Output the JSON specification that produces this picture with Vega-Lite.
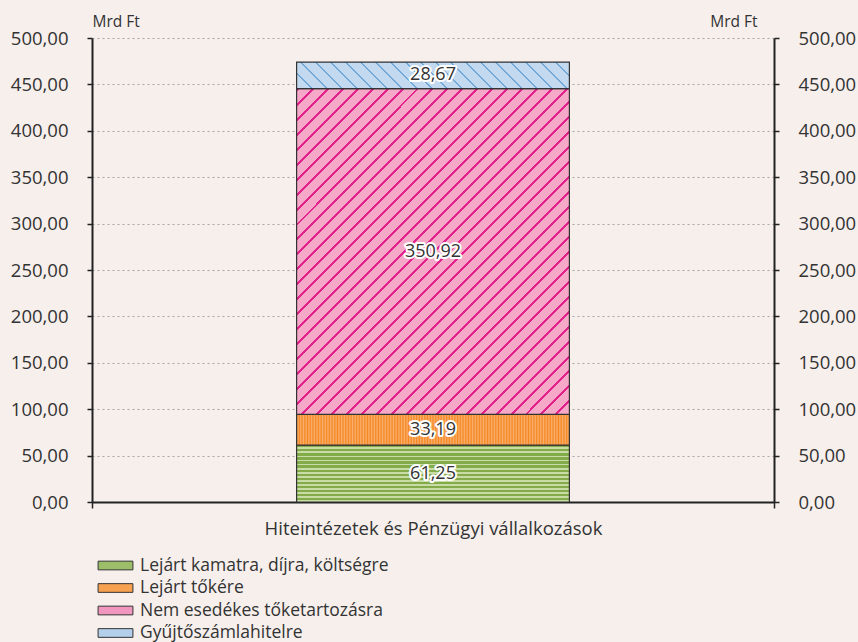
{
  "$schema": "https://vega.github.io/schema/vega-lite/v6.json",
  "width": 682,
  "height": 464,
  "autosize": {"type": "none"},
  "padding": {"left": 92, "top": 38, "right": 84, "bottom": 140},
  "background": "#f6efec",
  "config": {
    "view": {"stroke": null},
    "font": "Open Sans",
    "locale": {"number": {"decimal": ",", "thousands": " ", "grouping": [3], "currency": ["", " Ft"]}}
  },
  "data": {
    "values": [
      {"grp": "Hiteintézetek és Pénzügyi vállalkozások", "cat": "Lejárt kamatra, díjra, költségre", "ord": 1, "v": 61.25},
      {"grp": "Hiteintézetek és Pénzügyi vállalkozások", "cat": "Lejárt tőkére", "ord": 2, "v": 33.19},
      {"grp": "Hiteintézetek és Pénzügyi vállalkozások", "cat": "Nem esedékes tőketartozásra", "ord": 3, "v": 350.92},
      {"grp": "Hiteintézetek és Pénzügyi vállalkozások", "cat": "Gyűjtőszámlahitelre", "ord": 4, "v": 28.67}
    ]
  },
  "resolve": {"scale": {"y": "shared"}, "axis": {"y": "independent"}},
  "encoding": {
    "x": {
      "field": "grp", "type": "nominal",
      "scale": {"paddingInner": 0, "paddingOuter": 0},
      "axis": {"title": null, "labelAngle": 0, "labelFontSize": 18.5, "labelLimit": 0, "labelColor": "#333", "domainColor": "#222", "domainWidth": 2, "tickBand": "extent", "tickColor": "#222", "tickWidth": 1.5, "tickSize": 6, "labelPadding": 11}
    }
  },
  "layer": [
    {
      "mark": {"type": "bar", "width": {"band": 0.4}},
      "encoding": {
        "y": {
          "field": "v", "type": "quantitative", "stack": "zero",
          "scale": {"domain": [0, 500], "nice": false},
          "axis": {"orient": "left", "values": [0, 50, 100, 150, 200, 250, 300, 350, 400, 450, 500], "format": ".2f", "grid": true, "gridColor": "#a6a6a6", "gridDash": [2, 3], "gridWidth": 1, "domainColor": "#222", "domainWidth": 2, "tickColor": "#222", "tickWidth": 1.5, "tickSize": 5, "labelFontSize": 18.5, "labelColor": "#333", "labelPadding": 19, "title": "Mrd Ft", "titleAngle": 0, "titleX": 0, "titleY": -17, "titleAlign": "left", "titleBaseline": "middle", "titleFontSize": 15.5, "titleFontWeight": "normal", "titleColor": "#333"}
        },
        "order": {"field": "ord"},
        "color": {
          "field": "cat", "type": "nominal",
          "sort": ["Lejárt kamatra, díjra, költségre", "Lejárt tőkére", "Nem esedékes tőketartozásra", "Gyűjtőszámlahitelre"],
          "scale": {"domain": ["Lejárt kamatra, díjra, költségre", "Lejárt tőkére", "Nem esedékes tőketartozásra", "Gyűjtőszámlahitelre"], "range": ["#9cbe68", "#f7a050", "#f196be", "#b3cfea"]},
          "legend": {
            "orient": "none", "legendX": 14, "legendY": 518, "title": null, "padding": 0,
            "symbolType": "M-2,-0.5L2,-0.5L2,0.5L-2,0.5Z", "symbolSize": 303,
            "labelFontSize": 17.5, "labelLimit": 0, "labelColor": "#333", "labelOffset": 15, "rowPadding": 4.5,
            "encode": {"symbols": {"update": {"stroke": {"value": "#333"}, "strokeWidth": {"value": 1}, "opacity": {"value": 1}}}}
          }
        }
      }
    },
    {
      "mark": {"type": "bar", "width": {"band": 0.4}, "stroke": "#333", "strokeWidth": 1.2},
      "encoding": {
        "y": {
          "field": "v", "type": "quantitative", "stack": "zero",
          "scale": {"domain": [0, 500], "nice": false},
          "axis": {"orient": "right", "values": [0, 50, 100, 150, 200, 250, 300, 350, 400, 450, 500], "format": ".2f", "grid": false, "domainColor": "#222", "domainWidth": 2, "tickColor": "#222", "tickWidth": 1.5, "tickSize": 5, "labelFontSize": 18.5, "labelColor": "#333", "labelPadding": 19, "title": "Mrd Ft", "titleAngle": 0, "titleX": -17, "titleY": -17, "titleAlign": "right", "titleBaseline": "middle", "titleFontSize": 15.5, "titleFontWeight": "normal", "titleColor": "#333"}
        },
        "order": {"field": "ord"},
        "detail": {"field": "cat"},
        "fill": {
          "condition": [
            {"test": "datum.ord === 1", "value": {"gradient": "linear", "x1": 0, "y1": 0, "x2": 0, "y2": 1, "stops": [
              {"offset": 0, "color": "#84ab4a"}, {"offset": 0.0393, "color": "#84ab4a"}, {"offset": 0.0393, "color": "#c9dca6"}, {"offset": 0.0714, "color": "#c9dca6"},
              {"offset": 0.0714, "color": "#84ab4a"}, {"offset": 0.1107, "color": "#84ab4a"}, {"offset": 0.1107, "color": "#c9dca6"}, {"offset": 0.1429, "color": "#c9dca6"},
              {"offset": 0.1429, "color": "#84ab4a"}, {"offset": 0.1821, "color": "#84ab4a"}, {"offset": 0.1821, "color": "#c9dca6"}, {"offset": 0.2143, "color": "#c9dca6"},
              {"offset": 0.2143, "color": "#84ab4a"}, {"offset": 0.2536, "color": "#84ab4a"}, {"offset": 0.2536, "color": "#c9dca6"}, {"offset": 0.2857, "color": "#c9dca6"},
              {"offset": 0.2857, "color": "#84ab4a"}, {"offset": 0.325, "color": "#84ab4a"}, {"offset": 0.325, "color": "#c9dca6"}, {"offset": 0.3571, "color": "#c9dca6"},
              {"offset": 0.3571, "color": "#84ab4a"}, {"offset": 0.3964, "color": "#84ab4a"}, {"offset": 0.3964, "color": "#c9dca6"}, {"offset": 0.4286, "color": "#c9dca6"},
              {"offset": 0.4286, "color": "#84ab4a"}, {"offset": 0.4679, "color": "#84ab4a"}, {"offset": 0.4679, "color": "#c9dca6"}, {"offset": 0.5, "color": "#c9dca6"},
              {"offset": 0.5, "color": "#84ab4a"}, {"offset": 0.5393, "color": "#84ab4a"}, {"offset": 0.5393, "color": "#c9dca6"}, {"offset": 0.5714, "color": "#c9dca6"},
              {"offset": 0.5714, "color": "#84ab4a"}, {"offset": 0.6107, "color": "#84ab4a"}, {"offset": 0.6107, "color": "#c9dca6"}, {"offset": 0.6429, "color": "#c9dca6"},
              {"offset": 0.6429, "color": "#84ab4a"}, {"offset": 0.6821, "color": "#84ab4a"}, {"offset": 0.6821, "color": "#c9dca6"}, {"offset": 0.7143, "color": "#c9dca6"},
              {"offset": 0.7143, "color": "#84ab4a"}, {"offset": 0.7536, "color": "#84ab4a"}, {"offset": 0.7536, "color": "#c9dca6"}, {"offset": 0.7857, "color": "#c9dca6"},
              {"offset": 0.7857, "color": "#84ab4a"}, {"offset": 0.825, "color": "#84ab4a"}, {"offset": 0.825, "color": "#c9dca6"}, {"offset": 0.8571, "color": "#c9dca6"},
              {"offset": 0.8571, "color": "#84ab4a"}, {"offset": 0.8964, "color": "#84ab4a"}, {"offset": 0.8964, "color": "#c9dca6"}, {"offset": 0.9286, "color": "#c9dca6"},
              {"offset": 0.9286, "color": "#84ab4a"}, {"offset": 0.9679, "color": "#84ab4a"}, {"offset": 0.9679, "color": "#c9dca6"}, {"offset": 1, "color": "#c9dca6"}]}},
            {"test": "datum.ord === 2", "value": {"gradient": "linear", "x1": 0, "y1": 0, "x2": 1, "y2": 0, "stops": [
              {"offset": 0, "color": "#f58720"}, {"offset": 0.005, "color": "#f9b070"}, {"offset": 0.01, "color": "#f58720"}, {"offset": 0.015, "color": "#f9b070"},
              {"offset": 0.02, "color": "#f58720"}, {"offset": 0.025, "color": "#f9b070"}, {"offset": 0.03, "color": "#f58720"}, {"offset": 0.035, "color": "#f9b070"},
              {"offset": 0.04, "color": "#f58720"}, {"offset": 0.045, "color": "#f9b070"}, {"offset": 0.05, "color": "#f58720"}, {"offset": 0.055, "color": "#f9b070"},
              {"offset": 0.06, "color": "#f58720"}, {"offset": 0.065, "color": "#f9b070"}, {"offset": 0.07, "color": "#f58720"}, {"offset": 0.075, "color": "#f9b070"},
              {"offset": 0.08, "color": "#f58720"}, {"offset": 0.085, "color": "#f9b070"}, {"offset": 0.09, "color": "#f58720"}, {"offset": 0.095, "color": "#f9b070"},
              {"offset": 0.1, "color": "#f58720"}, {"offset": 0.105, "color": "#f9b070"}, {"offset": 0.11, "color": "#f58720"}, {"offset": 0.115, "color": "#f9b070"},
              {"offset": 0.12, "color": "#f58720"}, {"offset": 0.125, "color": "#f9b070"}, {"offset": 0.13, "color": "#f58720"}, {"offset": 0.135, "color": "#f9b070"},
              {"offset": 0.14, "color": "#f58720"}, {"offset": 0.145, "color": "#f9b070"}, {"offset": 0.15, "color": "#f58720"}, {"offset": 0.155, "color": "#f9b070"},
              {"offset": 0.16, "color": "#f58720"}, {"offset": 0.165, "color": "#f9b070"}, {"offset": 0.17, "color": "#f58720"}, {"offset": 0.175, "color": "#f9b070"},
              {"offset": 0.18, "color": "#f58720"}, {"offset": 0.185, "color": "#f9b070"}, {"offset": 0.19, "color": "#f58720"}, {"offset": 0.195, "color": "#f9b070"},
              {"offset": 0.2, "color": "#f58720"}, {"offset": 0.205, "color": "#f9b070"}, {"offset": 0.21, "color": "#f58720"}, {"offset": 0.215, "color": "#f9b070"},
              {"offset": 0.22, "color": "#f58720"}, {"offset": 0.225, "color": "#f9b070"}, {"offset": 0.23, "color": "#f58720"}, {"offset": 0.235, "color": "#f9b070"},
              {"offset": 0.24, "color": "#f58720"}, {"offset": 0.245, "color": "#f9b070"}, {"offset": 0.25, "color": "#f58720"}, {"offset": 0.255, "color": "#f9b070"},
              {"offset": 0.26, "color": "#f58720"}, {"offset": 0.265, "color": "#f9b070"}, {"offset": 0.27, "color": "#f58720"}, {"offset": 0.275, "color": "#f9b070"},
              {"offset": 0.28, "color": "#f58720"}, {"offset": 0.285, "color": "#f9b070"}, {"offset": 0.29, "color": "#f58720"}, {"offset": 0.295, "color": "#f9b070"},
              {"offset": 0.3, "color": "#f58720"}, {"offset": 0.305, "color": "#f9b070"}, {"offset": 0.31, "color": "#f58720"}, {"offset": 0.315, "color": "#f9b070"},
              {"offset": 0.32, "color": "#f58720"}, {"offset": 0.325, "color": "#f9b070"}, {"offset": 0.33, "color": "#f58720"}, {"offset": 0.335, "color": "#f9b070"},
              {"offset": 0.34, "color": "#f58720"}, {"offset": 0.345, "color": "#f9b070"}, {"offset": 0.35, "color": "#f58720"}, {"offset": 0.355, "color": "#f9b070"},
              {"offset": 0.36, "color": "#f58720"}, {"offset": 0.365, "color": "#f9b070"}, {"offset": 0.37, "color": "#f58720"}, {"offset": 0.375, "color": "#f9b070"},
              {"offset": 0.38, "color": "#f58720"}, {"offset": 0.385, "color": "#f9b070"}, {"offset": 0.39, "color": "#f58720"}, {"offset": 0.395, "color": "#f9b070"},
              {"offset": 0.4, "color": "#f58720"}, {"offset": 0.405, "color": "#f9b070"}, {"offset": 0.41, "color": "#f58720"}, {"offset": 0.415, "color": "#f9b070"},
              {"offset": 0.42, "color": "#f58720"}, {"offset": 0.425, "color": "#f9b070"}, {"offset": 0.43, "color": "#f58720"}, {"offset": 0.435, "color": "#f9b070"},
              {"offset": 0.44, "color": "#f58720"}, {"offset": 0.445, "color": "#f9b070"}, {"offset": 0.45, "color": "#f58720"}, {"offset": 0.455, "color": "#f9b070"},
              {"offset": 0.46, "color": "#f58720"}, {"offset": 0.465, "color": "#f9b070"}, {"offset": 0.47, "color": "#f58720"}, {"offset": 0.475, "color": "#f9b070"},
              {"offset": 0.48, "color": "#f58720"}, {"offset": 0.485, "color": "#f9b070"}, {"offset": 0.49, "color": "#f58720"}, {"offset": 0.495, "color": "#f9b070"},
              {"offset": 0.5, "color": "#f58720"}, {"offset": 0.505, "color": "#f9b070"}, {"offset": 0.51, "color": "#f58720"}, {"offset": 0.515, "color": "#f9b070"},
              {"offset": 0.52, "color": "#f58720"}, {"offset": 0.525, "color": "#f9b070"}, {"offset": 0.53, "color": "#f58720"}, {"offset": 0.535, "color": "#f9b070"},
              {"offset": 0.54, "color": "#f58720"}, {"offset": 0.545, "color": "#f9b070"}, {"offset": 0.55, "color": "#f58720"}, {"offset": 0.555, "color": "#f9b070"},
              {"offset": 0.56, "color": "#f58720"}, {"offset": 0.565, "color": "#f9b070"}, {"offset": 0.57, "color": "#f58720"}, {"offset": 0.575, "color": "#f9b070"},
              {"offset": 0.58, "color": "#f58720"}, {"offset": 0.585, "color": "#f9b070"}, {"offset": 0.59, "color": "#f58720"}, {"offset": 0.595, "color": "#f9b070"},
              {"offset": 0.6, "color": "#f58720"}, {"offset": 0.605, "color": "#f9b070"}, {"offset": 0.61, "color": "#f58720"}, {"offset": 0.615, "color": "#f9b070"},
              {"offset": 0.62, "color": "#f58720"}, {"offset": 0.625, "color": "#f9b070"}, {"offset": 0.63, "color": "#f58720"}, {"offset": 0.635, "color": "#f9b070"},
              {"offset": 0.64, "color": "#f58720"}, {"offset": 0.645, "color": "#f9b070"}, {"offset": 0.65, "color": "#f58720"}, {"offset": 0.655, "color": "#f9b070"},
              {"offset": 0.66, "color": "#f58720"}, {"offset": 0.665, "color": "#f9b070"}, {"offset": 0.67, "color": "#f58720"}, {"offset": 0.675, "color": "#f9b070"},
              {"offset": 0.68, "color": "#f58720"}, {"offset": 0.685, "color": "#f9b070"}, {"offset": 0.69, "color": "#f58720"}, {"offset": 0.695, "color": "#f9b070"},
              {"offset": 0.7, "color": "#f58720"}, {"offset": 0.705, "color": "#f9b070"}, {"offset": 0.71, "color": "#f58720"}, {"offset": 0.715, "color": "#f9b070"},
              {"offset": 0.72, "color": "#f58720"}, {"offset": 0.725, "color": "#f9b070"}, {"offset": 0.73, "color": "#f58720"}, {"offset": 0.735, "color": "#f9b070"},
              {"offset": 0.74, "color": "#f58720"}, {"offset": 0.745, "color": "#f9b070"}, {"offset": 0.75, "color": "#f58720"}, {"offset": 0.755, "color": "#f9b070"},
              {"offset": 0.76, "color": "#f58720"}, {"offset": 0.765, "color": "#f9b070"}, {"offset": 0.77, "color": "#f58720"}, {"offset": 0.775, "color": "#f9b070"},
              {"offset": 0.78, "color": "#f58720"}, {"offset": 0.785, "color": "#f9b070"}, {"offset": 0.79, "color": "#f58720"}, {"offset": 0.795, "color": "#f9b070"},
              {"offset": 0.8, "color": "#f58720"}, {"offset": 0.805, "color": "#f9b070"}, {"offset": 0.81, "color": "#f58720"}, {"offset": 0.815, "color": "#f9b070"},
              {"offset": 0.82, "color": "#f58720"}, {"offset": 0.825, "color": "#f9b070"}, {"offset": 0.83, "color": "#f58720"}, {"offset": 0.835, "color": "#f9b070"},
              {"offset": 0.84, "color": "#f58720"}, {"offset": 0.845, "color": "#f9b070"}, {"offset": 0.85, "color": "#f58720"}, {"offset": 0.855, "color": "#f9b070"},
              {"offset": 0.86, "color": "#f58720"}, {"offset": 0.865, "color": "#f9b070"}, {"offset": 0.87, "color": "#f58720"}, {"offset": 0.875, "color": "#f9b070"},
              {"offset": 0.88, "color": "#f58720"}, {"offset": 0.885, "color": "#f9b070"}, {"offset": 0.89, "color": "#f58720"}, {"offset": 0.895, "color": "#f9b070"},
              {"offset": 0.9, "color": "#f58720"}, {"offset": 0.905, "color": "#f9b070"}, {"offset": 0.91, "color": "#f58720"}, {"offset": 0.915, "color": "#f9b070"},
              {"offset": 0.92, "color": "#f58720"}, {"offset": 0.925, "color": "#f9b070"}, {"offset": 0.93, "color": "#f58720"}, {"offset": 0.935, "color": "#f9b070"},
              {"offset": 0.94, "color": "#f58720"}, {"offset": 0.945, "color": "#f9b070"}, {"offset": 0.95, "color": "#f58720"}, {"offset": 0.955, "color": "#f9b070"},
              {"offset": 0.96, "color": "#f58720"}, {"offset": 0.965, "color": "#f9b070"}, {"offset": 0.97, "color": "#f58720"}, {"offset": 0.975, "color": "#f9b070"},
              {"offset": 0.98, "color": "#f58720"}, {"offset": 0.985, "color": "#f9b070"}, {"offset": 0.99, "color": "#f58720"}, {"offset": 0.995, "color": "#f9b070"},
              {"offset": 1, "color": "#f58720"}]}},
            {"test": "datum.ord === 3", "value": {"gradient": "linear", "x1": 0, "y1": 0, "x2": 0.905, "y2": 1.08, "stops": [
              {"offset": 0, "color": "#e2238c"}, {"offset": 0.005, "color": "#e2238c"}, {"offset": 0.005, "color": "#f6a8c8"}, {"offset": 0.025, "color": "#f6a8c8"},
              {"offset": 0.025, "color": "#e2238c"}, {"offset": 0.03, "color": "#e2238c"}, {"offset": 0.03, "color": "#f6a8c8"}, {"offset": 0.05, "color": "#f6a8c8"},
              {"offset": 0.05, "color": "#e2238c"}, {"offset": 0.055, "color": "#e2238c"}, {"offset": 0.055, "color": "#f6a8c8"}, {"offset": 0.075, "color": "#f6a8c8"},
              {"offset": 0.075, "color": "#e2238c"}, {"offset": 0.08, "color": "#e2238c"}, {"offset": 0.08, "color": "#f6a8c8"}, {"offset": 0.1, "color": "#f6a8c8"},
              {"offset": 0.1, "color": "#e2238c"}, {"offset": 0.105, "color": "#e2238c"}, {"offset": 0.105, "color": "#f6a8c8"}, {"offset": 0.125, "color": "#f6a8c8"},
              {"offset": 0.125, "color": "#e2238c"}, {"offset": 0.13, "color": "#e2238c"}, {"offset": 0.13, "color": "#f6a8c8"}, {"offset": 0.15, "color": "#f6a8c8"},
              {"offset": 0.15, "color": "#e2238c"}, {"offset": 0.155, "color": "#e2238c"}, {"offset": 0.155, "color": "#f6a8c8"}, {"offset": 0.175, "color": "#f6a8c8"},
              {"offset": 0.175, "color": "#e2238c"}, {"offset": 0.18, "color": "#e2238c"}, {"offset": 0.18, "color": "#f6a8c8"}, {"offset": 0.2, "color": "#f6a8c8"},
              {"offset": 0.2, "color": "#e2238c"}, {"offset": 0.205, "color": "#e2238c"}, {"offset": 0.205, "color": "#f6a8c8"}, {"offset": 0.225, "color": "#f6a8c8"},
              {"offset": 0.225, "color": "#e2238c"}, {"offset": 0.23, "color": "#e2238c"}, {"offset": 0.23, "color": "#f6a8c8"}, {"offset": 0.25, "color": "#f6a8c8"},
              {"offset": 0.25, "color": "#e2238c"}, {"offset": 0.255, "color": "#e2238c"}, {"offset": 0.255, "color": "#f6a8c8"}, {"offset": 0.275, "color": "#f6a8c8"},
              {"offset": 0.275, "color": "#e2238c"}, {"offset": 0.28, "color": "#e2238c"}, {"offset": 0.28, "color": "#f6a8c8"}, {"offset": 0.3, "color": "#f6a8c8"},
              {"offset": 0.3, "color": "#e2238c"}, {"offset": 0.305, "color": "#e2238c"}, {"offset": 0.305, "color": "#f6a8c8"}, {"offset": 0.325, "color": "#f6a8c8"},
              {"offset": 0.325, "color": "#e2238c"}, {"offset": 0.33, "color": "#e2238c"}, {"offset": 0.33, "color": "#f6a8c8"}, {"offset": 0.35, "color": "#f6a8c8"},
              {"offset": 0.35, "color": "#e2238c"}, {"offset": 0.355, "color": "#e2238c"}, {"offset": 0.355, "color": "#f6a8c8"}, {"offset": 0.375, "color": "#f6a8c8"},
              {"offset": 0.375, "color": "#e2238c"}, {"offset": 0.38, "color": "#e2238c"}, {"offset": 0.38, "color": "#f6a8c8"}, {"offset": 0.4, "color": "#f6a8c8"},
              {"offset": 0.4, "color": "#e2238c"}, {"offset": 0.405, "color": "#e2238c"}, {"offset": 0.405, "color": "#f6a8c8"}, {"offset": 0.425, "color": "#f6a8c8"},
              {"offset": 0.425, "color": "#e2238c"}, {"offset": 0.43, "color": "#e2238c"}, {"offset": 0.43, "color": "#f6a8c8"}, {"offset": 0.45, "color": "#f6a8c8"},
              {"offset": 0.45, "color": "#e2238c"}, {"offset": 0.455, "color": "#e2238c"}, {"offset": 0.455, "color": "#f6a8c8"}, {"offset": 0.475, "color": "#f6a8c8"},
              {"offset": 0.475, "color": "#e2238c"}, {"offset": 0.48, "color": "#e2238c"}, {"offset": 0.48, "color": "#f6a8c8"}, {"offset": 0.5, "color": "#f6a8c8"},
              {"offset": 0.5, "color": "#e2238c"}, {"offset": 0.505, "color": "#e2238c"}, {"offset": 0.505, "color": "#f6a8c8"}, {"offset": 0.525, "color": "#f6a8c8"},
              {"offset": 0.525, "color": "#e2238c"}, {"offset": 0.53, "color": "#e2238c"}, {"offset": 0.53, "color": "#f6a8c8"}, {"offset": 0.55, "color": "#f6a8c8"},
              {"offset": 0.55, "color": "#e2238c"}, {"offset": 0.555, "color": "#e2238c"}, {"offset": 0.555, "color": "#f6a8c8"}, {"offset": 0.575, "color": "#f6a8c8"},
              {"offset": 0.575, "color": "#e2238c"}, {"offset": 0.58, "color": "#e2238c"}, {"offset": 0.58, "color": "#f6a8c8"}, {"offset": 0.6, "color": "#f6a8c8"},
              {"offset": 0.6, "color": "#e2238c"}, {"offset": 0.605, "color": "#e2238c"}, {"offset": 0.605, "color": "#f6a8c8"}, {"offset": 0.625, "color": "#f6a8c8"},
              {"offset": 0.625, "color": "#e2238c"}, {"offset": 0.63, "color": "#e2238c"}, {"offset": 0.63, "color": "#f6a8c8"}, {"offset": 0.65, "color": "#f6a8c8"},
              {"offset": 0.65, "color": "#e2238c"}, {"offset": 0.655, "color": "#e2238c"}, {"offset": 0.655, "color": "#f6a8c8"}, {"offset": 0.675, "color": "#f6a8c8"},
              {"offset": 0.675, "color": "#e2238c"}, {"offset": 0.68, "color": "#e2238c"}, {"offset": 0.68, "color": "#f6a8c8"}, {"offset": 0.7, "color": "#f6a8c8"},
              {"offset": 0.7, "color": "#e2238c"}, {"offset": 0.705, "color": "#e2238c"}, {"offset": 0.705, "color": "#f6a8c8"}, {"offset": 0.725, "color": "#f6a8c8"},
              {"offset": 0.725, "color": "#e2238c"}, {"offset": 0.73, "color": "#e2238c"}, {"offset": 0.73, "color": "#f6a8c8"}, {"offset": 0.75, "color": "#f6a8c8"},
              {"offset": 0.75, "color": "#e2238c"}, {"offset": 0.755, "color": "#e2238c"}, {"offset": 0.755, "color": "#f6a8c8"}, {"offset": 0.775, "color": "#f6a8c8"},
              {"offset": 0.775, "color": "#e2238c"}, {"offset": 0.78, "color": "#e2238c"}, {"offset": 0.78, "color": "#f6a8c8"}, {"offset": 0.8, "color": "#f6a8c8"},
              {"offset": 0.8, "color": "#e2238c"}, {"offset": 0.805, "color": "#e2238c"}, {"offset": 0.805, "color": "#f6a8c8"}, {"offset": 0.825, "color": "#f6a8c8"},
              {"offset": 0.825, "color": "#e2238c"}, {"offset": 0.83, "color": "#e2238c"}, {"offset": 0.83, "color": "#f6a8c8"}, {"offset": 0.85, "color": "#f6a8c8"},
              {"offset": 0.85, "color": "#e2238c"}, {"offset": 0.855, "color": "#e2238c"}, {"offset": 0.855, "color": "#f6a8c8"}, {"offset": 0.875, "color": "#f6a8c8"},
              {"offset": 0.875, "color": "#e2238c"}, {"offset": 0.88, "color": "#e2238c"}, {"offset": 0.88, "color": "#f6a8c8"}, {"offset": 0.9, "color": "#f6a8c8"},
              {"offset": 0.9, "color": "#e2238c"}, {"offset": 0.905, "color": "#e2238c"}, {"offset": 0.905, "color": "#f6a8c8"}, {"offset": 0.925, "color": "#f6a8c8"},
              {"offset": 0.925, "color": "#e2238c"}, {"offset": 0.93, "color": "#e2238c"}, {"offset": 0.93, "color": "#f6a8c8"}, {"offset": 0.95, "color": "#f6a8c8"},
              {"offset": 0.95, "color": "#e2238c"}, {"offset": 0.955, "color": "#e2238c"}, {"offset": 0.955, "color": "#f6a8c8"}, {"offset": 0.975, "color": "#f6a8c8"},
              {"offset": 0.975, "color": "#e2238c"}, {"offset": 0.98, "color": "#e2238c"}, {"offset": 0.98, "color": "#f6a8c8"}, {"offset": 1, "color": "#f6a8c8"}]}}
          ],
          "value": {"gradient": "linear", "x1": 0, "y1": 1, "x2": 1.087, "y2": 0.894, "stops": [
            {"offset": 0, "color": "#73a9d8"}, {"offset": 0.007, "color": "#73a9d8"}, {"offset": 0.007, "color": "#c3d9ef"}, {"offset": 0.05, "color": "#c3d9ef"},
            {"offset": 0.05, "color": "#73a9d8"}, {"offset": 0.057, "color": "#73a9d8"}, {"offset": 0.057, "color": "#c3d9ef"}, {"offset": 0.1, "color": "#c3d9ef"},
            {"offset": 0.1, "color": "#73a9d8"}, {"offset": 0.107, "color": "#73a9d8"}, {"offset": 0.107, "color": "#c3d9ef"}, {"offset": 0.15, "color": "#c3d9ef"},
            {"offset": 0.15, "color": "#73a9d8"}, {"offset": 0.157, "color": "#73a9d8"}, {"offset": 0.157, "color": "#c3d9ef"}, {"offset": 0.2, "color": "#c3d9ef"},
            {"offset": 0.2, "color": "#73a9d8"}, {"offset": 0.207, "color": "#73a9d8"}, {"offset": 0.207, "color": "#c3d9ef"}, {"offset": 0.25, "color": "#c3d9ef"},
            {"offset": 0.25, "color": "#73a9d8"}, {"offset": 0.257, "color": "#73a9d8"}, {"offset": 0.257, "color": "#c3d9ef"}, {"offset": 0.3, "color": "#c3d9ef"},
            {"offset": 0.3, "color": "#73a9d8"}, {"offset": 0.307, "color": "#73a9d8"}, {"offset": 0.307, "color": "#c3d9ef"}, {"offset": 0.35, "color": "#c3d9ef"},
            {"offset": 0.35, "color": "#73a9d8"}, {"offset": 0.357, "color": "#73a9d8"}, {"offset": 0.357, "color": "#c3d9ef"}, {"offset": 0.4, "color": "#c3d9ef"},
            {"offset": 0.4, "color": "#73a9d8"}, {"offset": 0.407, "color": "#73a9d8"}, {"offset": 0.407, "color": "#c3d9ef"}, {"offset": 0.45, "color": "#c3d9ef"},
            {"offset": 0.45, "color": "#73a9d8"}, {"offset": 0.457, "color": "#73a9d8"}, {"offset": 0.457, "color": "#c3d9ef"}, {"offset": 0.5, "color": "#c3d9ef"},
            {"offset": 0.5, "color": "#73a9d8"}, {"offset": 0.507, "color": "#73a9d8"}, {"offset": 0.507, "color": "#c3d9ef"}, {"offset": 0.55, "color": "#c3d9ef"},
            {"offset": 0.55, "color": "#73a9d8"}, {"offset": 0.557, "color": "#73a9d8"}, {"offset": 0.557, "color": "#c3d9ef"}, {"offset": 0.6, "color": "#c3d9ef"},
            {"offset": 0.6, "color": "#73a9d8"}, {"offset": 0.607, "color": "#73a9d8"}, {"offset": 0.607, "color": "#c3d9ef"}, {"offset": 0.65, "color": "#c3d9ef"},
            {"offset": 0.65, "color": "#73a9d8"}, {"offset": 0.657, "color": "#73a9d8"}, {"offset": 0.657, "color": "#c3d9ef"}, {"offset": 0.7, "color": "#c3d9ef"},
            {"offset": 0.7, "color": "#73a9d8"}, {"offset": 0.707, "color": "#73a9d8"}, {"offset": 0.707, "color": "#c3d9ef"}, {"offset": 0.75, "color": "#c3d9ef"},
            {"offset": 0.75, "color": "#73a9d8"}, {"offset": 0.757, "color": "#73a9d8"}, {"offset": 0.757, "color": "#c3d9ef"}, {"offset": 0.8, "color": "#c3d9ef"},
            {"offset": 0.8, "color": "#73a9d8"}, {"offset": 0.807, "color": "#73a9d8"}, {"offset": 0.807, "color": "#c3d9ef"}, {"offset": 0.85, "color": "#c3d9ef"},
            {"offset": 0.85, "color": "#73a9d8"}, {"offset": 0.857, "color": "#73a9d8"}, {"offset": 0.857, "color": "#c3d9ef"}, {"offset": 0.9, "color": "#c3d9ef"},
            {"offset": 0.9, "color": "#73a9d8"}, {"offset": 0.907, "color": "#73a9d8"}, {"offset": 0.907, "color": "#c3d9ef"}, {"offset": 0.95, "color": "#c3d9ef"},
            {"offset": 0.95, "color": "#73a9d8"}, {"offset": 0.957, "color": "#73a9d8"}, {"offset": 0.957, "color": "#c3d9ef"}, {"offset": 1, "color": "#c3d9ef"}]}
        }
      }
    },
    {
      "mark": {"type": "text", "fontSize": 18, "fill": "white", "stroke": "white", "strokeWidth": 4, "strokeJoin": "round", "baseline": "middle"},
      "encoding": {
        "y": {"field": "v", "type": "quantitative", "stack": "zero", "bandPosition": 0.5, "axis": null},
        "order": {"field": "ord"},
        "detail": {"field": "cat"},
        "text": {"field": "v", "type": "quantitative", "format": ".2f"}
      }
    },
    {
      "mark": {"type": "text", "fontSize": 18, "fill": "#333", "baseline": "middle"},
      "encoding": {
        "y": {"field": "v", "type": "quantitative", "stack": "zero", "bandPosition": 0.5, "axis": null},
        "order": {"field": "ord"},
        "detail": {"field": "cat"},
        "text": {"field": "v", "type": "quantitative", "format": ".2f"}
      }
    }
  ]
}
